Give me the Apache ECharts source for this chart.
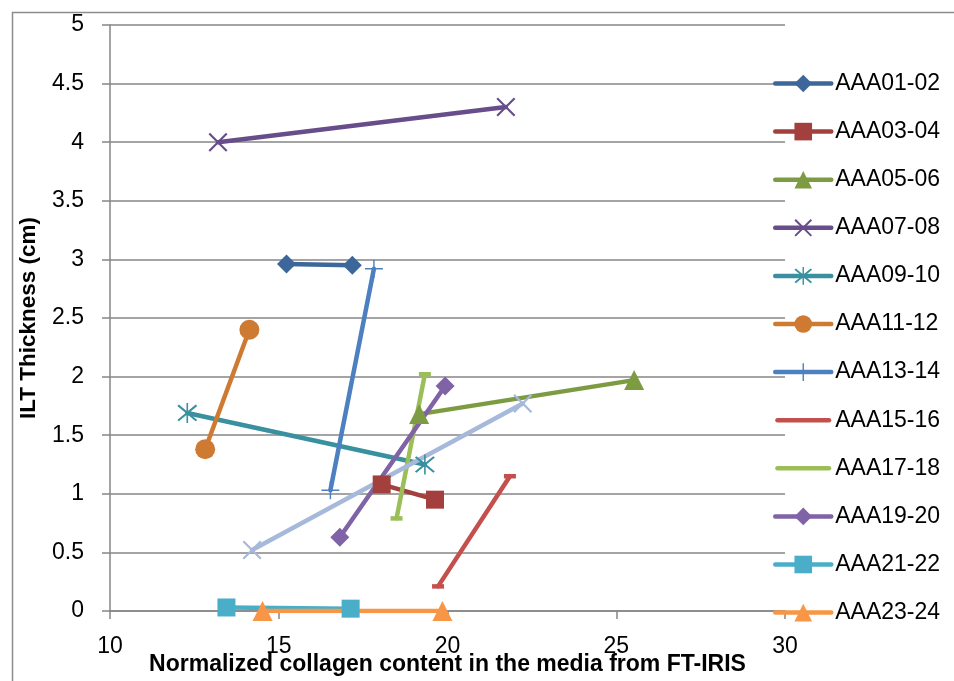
<!DOCTYPE html>
<html>
<head>
<meta charset="utf-8">
<script src="https://cdn.jsdelivr.net/npm/echarts@6/dist/echarts.min.js"></script>
<style>
  html, body { margin: 0; padding: 0; background: #fff; }
  #chart { width: 954px; height: 681px; }
</style>
</head>
<body>
<div id="chart"></div>
<script>
// Pairs of aneurysm samples: collagen content (x) vs ILT thickness (y)
const seriesNames = ['AAA01-02', 'AAA03-04', 'AAA05-06', 'AAA07-08', 'AAA09-10', 'AAA11-12',
                     'AAA13-14', 'AAA15-16', 'AAA17-18', 'AAA19-20', 'AAA21-22', 'AAA23-24', 'AAA25-26'];
const collagen = [
  [15.23, 17.18], [18.05, 19.63], [19.16, 25.53], [13.20, 21.73], [12.29, 19.33], [12.82, 14.13],
  [16.53, 17.82], [19.72, 21.85], [18.49, 19.33], [16.81, 19.93], [13.45, 17.13], [14.52, 19.85],
  [14.21, 22.23]
];
const thickness = [
  [2.96, 2.95], [1.08, 0.95], [1.68, 1.97], [4.00, 4.30], [1.69, 1.25], [1.38, 2.40],
  [1.03, 2.92], [0.21, 1.15], [0.79, 2.02], [0.63, 1.92], [0.03, 0.02], [0.00, 0.00],
  [0.52, 1.77]
];
const legendNames = seriesNames.slice(0, 12);
const xTicks = { min: 10, max: 30, step: 5 };
const yTicks = { min: 0, max: 5, step: 0.5 };

const colors = ['#3D679B', '#A3403D', '#7D9C41', '#674D8A', '#39909F', '#CF7A33',
                '#4C80C0', '#C4504D', '#9BBE59', '#8063A6', '#4BAEC8', '#F79646', '#A7B9DA'];

const xMark = 'path://M0,1.6L1.6,0L20,18.4L18.4,20ZM18.4,0L20,1.6L1.6,20L0,18.4Z';
const starMark = 'path://M0,1.6L1.6,0L20,18.4L18.4,20ZM18.4,0L20,1.6L1.6,20L0,18.4ZM9.2,-2L10.8,-2L10.8,22L9.2,22Z';
const plusMark = 'path://M0,9.2L20,9.2L20,10.8L0,10.8ZM9.2,0L10.8,0L10.8,20L9.2,20Z';
// plain thick line used as legend icon for the series drawn with dash markers
const lineIcon = 'path://M2.25,0L53.75,0A2.25,2.25,0,0,1,53.75,4.5L2.25,4.5A2.25,2.25,0,0,1,2.25,0Z';

const marks = [
  ['diamond', 19], ['rect', 18], ['triangle', 20], [xMark, 19], [starMark, 20], ['circle', 20],
  [plusMark, 18], ['rect', [12, 4.5]], ['rect', [12, 4.5]], ['diamond', 19], ['rect', 18],
  ['triangle', 20], [xMark, 19]
];
const dashSeries = ['AAA15-16', 'AAA17-18'];

const FONT = 'Liberation Sans';

const series = seriesNames.map((name, i) => ({
  name: name,
  type: 'line',
  data: collagen[i].map((x, j) => [x, thickness[i][j]]),
  symbol: marks[i][0],
  symbolSize: marks[i][1],
  showSymbol: true,
  animation: false,
  lineStyle: { color: colors[i], width: 4.5, cap: 'round' },
  itemStyle: { color: colors[i], borderWidth: 0 },
  emphasis: { disabled: true }
}));

const chart = echarts.init(document.getElementById('chart'));
chart.setOption({
  animation: false,
  color: colors,
  textStyle: { fontFamily: FONT },
  grid: { left: 110, right: 169, top: 25, bottom: 70, containLabel: false, outerBoundsMode: 'none' },
  graphic: [{
    type: 'rect', left: 10, top: 10, silent: true,
    shape: { width: 980, height: 720 },
    style: { fill: 'none', stroke: '#8c8c8c', lineWidth: 1.5 }
  }],
  legend: {
    data: legendNames.map(n => dashSeries.includes(n) ? { name: n, icon: lineIcon } : { name: n }),
    orient: 'vertical',
    left: 773, top: 72, padding: 0,
    itemWidth: 56, itemHeight: 22, itemGap: 25.1,
    lineStyle: { width: 4.5, cap: 'round' },
    textStyle: { fontSize: 23, color: '#000', fontFamily: FONT, padding: [0, 0, 0, -1] },
    selectedMode: false
  },
  xAxis: {
    type: 'value',
    min: xTicks.min, max: xTicks.max, interval: xTicks.step,
    name: 'Normalized collagen content in the media from FT-IRIS',
    nameLocation: 'middle', nameGap: 42, nameMoveOverlap: false,
    nameTextStyle: { fontSize: 23, fontWeight: 'bold', color: '#000', fontFamily: FONT },
    axisLine: { show: true, onZero: false, lineStyle: { color: '#868686', width: 1.5 } },
    axisTick: { show: true, length: 8, lineStyle: { color: '#868686', width: 1.5 } },
    axisLabel: { fontSize: 23, color: '#000', margin: 24, fontFamily: FONT },
    splitLine: { show: false }
  },
  yAxis: {
    type: 'value',
    min: yTicks.min, max: yTicks.max, interval: yTicks.step,
    name: 'ILT Thickness (cm)',
    nameLocation: 'middle', nameGap: 70, nameMoveOverlap: false,
    nameTextStyle: { fontSize: 22.5, fontWeight: 'bold', color: '#000', fontFamily: FONT },
    axisLine: { show: true, lineStyle: { color: '#868686', width: 1.5 } },
    axisTick: { show: true, length: 8, lineStyle: { color: '#868686', width: 1.5 } },
    axisLabel: { fontSize: 23, color: '#000', margin: 26, fontFamily: FONT },
    splitLine: { show: true, lineStyle: { color: '#868686', width: 1.5 } }
  },
  series: series
});
</script>
</body>
</html>
